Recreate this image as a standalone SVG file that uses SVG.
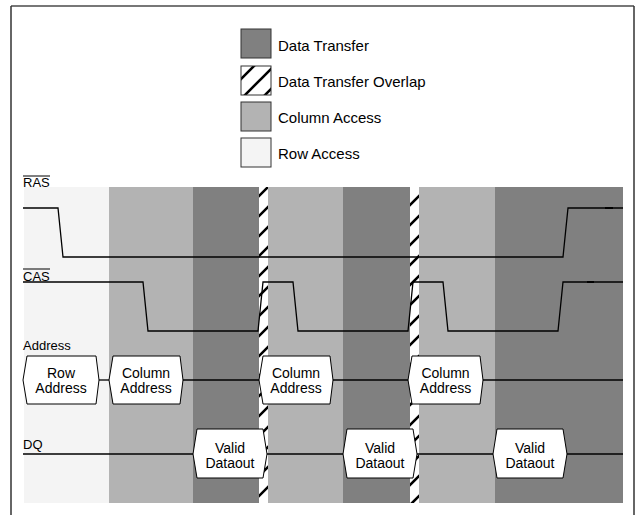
<svg xmlns="http://www.w3.org/2000/svg" width="636" height="515" viewBox="0 0 636 515">
<style>
.lbl{font-family:"Liberation Sans",Arial,sans-serif;font-size:13px;fill:#000}
.leg{font-family:"Liberation Sans",Arial,sans-serif;font-size:15px;fill:#000}
.bt{font-family:"Liberation Sans",Arial,sans-serif;font-size:14px;fill:#000;text-anchor:middle}
.box{fill:#fff;stroke:#000;stroke-width:1}
.wave{fill:none;stroke:#000;stroke-width:1.3}
.sw{stroke:#333;stroke-width:1}
.row{fill:#f4f4f4}
.col{fill:#b3b3b3}
.dt{fill:#808080}
</style>
<defs>
<pattern id="hatch" width="20" height="20" patternUnits="userSpaceOnUse">
<rect width="20" height="20" fill="#fff"/>
<path d="M-2,17 L17,-2 M13,22 L22,13" stroke="#000" stroke-width="2.6"/>
</pattern>
<pattern id="hatchLeg" width="20" height="20" patternUnits="userSpaceOnUse">
<rect width="20" height="20" fill="#fff"/>
<path d="M-2,2 L2,-2 M-2,22 L22,-2 M18,22 L22,18" stroke="#000" stroke-width="2.6"/>
</pattern>
</defs>
<rect width="636" height="515" fill="#fff"/>
<g id="frame">
<line x1="11" y1="6" x2="634" y2="6" stroke="#777" stroke-width="2"/>
<line x1="11" y1="6" x2="11" y2="515" stroke="#333" stroke-width="1.5"/>
<line x1="634" y1="6" x2="634" y2="515" stroke="#333" stroke-width="1.5"/>
</g>
<g id="legend">
<g id="leg-dt"><rect class="dt sw" x="241" y="29" width="30" height="29"/><text class="leg" x="278" y="51">Data Transfer</text></g>
<g id="leg-ov"><rect class="sw" fill="url(#hatchLeg)" x="241" y="66" width="30" height="29"/><text class="leg" x="278" y="87">Data Transfer Overlap</text></g>
<g id="leg-col"><rect class="col sw" x="241" y="102" width="30" height="29"/><text class="leg" x="278" y="123">Column Access</text></g>
<g id="leg-row"><rect class="row sw" x="241" y="138" width="30" height="29"/><text class="leg" x="278" y="159">Row Access</text></g>
</g>
<g id="bands">
<rect class="row" x="24" y="187" width="85" height="316"/>
<rect class="col" x="109" y="187" width="84" height="316"/>
<rect class="dt" x="193" y="187" width="66" height="316"/>
<rect fill="url(#hatch)" x="259" y="187" width="9" height="316"/>
<rect class="col" x="268" y="187" width="75" height="316"/>
<rect class="dt" x="343" y="187" width="67" height="316"/>
<rect fill="url(#hatch)" x="410" y="187" width="9" height="316"/>
<rect class="col" x="419" y="187" width="76" height="316"/>
<rect class="dt" x="495" y="187" width="128" height="316"/>
</g>
<g id="labels">
<text class="lbl" x="23" y="187">RAS</text>
<line x1="23" y1="176" x2="50" y2="176" stroke="#000" stroke-width="1"/>
<text class="lbl" x="23" y="281">CAS</text>
<line x1="23" y1="269" x2="50" y2="269" stroke="#000" stroke-width="1"/>
<text class="lbl" x="23" y="350">Address</text>
<text class="lbl" x="23" y="449">DQ</text>
</g>
<g id="connectors">
<polyline id="ras" class="wave" points="23,208 58,208 63,257 563,257 568,208 623,208"/>
<polyline id="cas" class="wave" points="23,282 143,282 148,331 258,331 263,282 293,282 298,331 408,331 413,282 443,282 448,331 558,331 563,282 623,282"/>
<line x1="605" y1="208" x2="613" y2="208" stroke="#000" stroke-width="2"/>
<line x1="587" y1="282" x2="594" y2="282" stroke="#000" stroke-width="2"/>
<g id="addr-line" class="wave">
<line x1="99" y1="380" x2="109" y2="380"/>
<line x1="183" y1="380" x2="259" y2="380"/>
<line x1="333" y1="380" x2="408" y2="380"/>
<line x1="483" y1="380" x2="623" y2="380"/>
</g>
<g id="dq-line" class="wave">
<line x1="23" y1="454" x2="193" y2="454"/>
<line x1="267" y1="454" x2="343" y2="454"/>
<line x1="417" y1="454" x2="493" y2="454"/>
<line x1="567" y1="454" x2="623" y2="454"/>
</g>
</g>
<g id="row-address">
<polygon class="box" points="23,380 27,356 96,356 99,380 96,404 27,404"/>
<text class="bt" x="61" y="378">Row</text><text class="bt" x="61" y="393">Address</text>
</g>
<g id="col-address-1">
<polygon class="box" points="109,380 113,356 180,356 183,380 180,404 113,404"/>
<text class="bt" x="146" y="378">Column</text><text class="bt" x="146" y="393">Address</text>
</g>
<g id="col-address-2">
<polygon class="box" points="259,380 263,356 330,356 333,380 330,404 263,404"/>
<text class="bt" x="296" y="378">Column</text><text class="bt" x="296" y="393">Address</text>
</g>
<g id="col-address-3">
<polygon class="box" points="408,380 412,356 480,356 483,380 480,404 412,404"/>
<text class="bt" x="445.5" y="378">Column</text><text class="bt" x="445.5" y="393">Address</text>
</g>
<g id="dataout-1">
<polygon class="box" points="193,454 197,429 263,429 267,454 263,478 197,478"/>
<text class="bt" x="230" y="453">Valid</text><text class="bt" x="230" y="467.5">Dataout</text>
</g>
<g id="dataout-2">
<polygon class="box" points="343,454 347,429 413,429 417,454 413,478 347,478"/>
<text class="bt" x="380" y="453">Valid</text><text class="bt" x="380" y="467.5">Dataout</text>
</g>
<g id="dataout-3">
<polygon class="box" points="493,454 497,429 563,429 567,454 563,478 497,478"/>
<text class="bt" x="530" y="453">Valid</text><text class="bt" x="530" y="467.5">Dataout</text>
</g>
</svg>
